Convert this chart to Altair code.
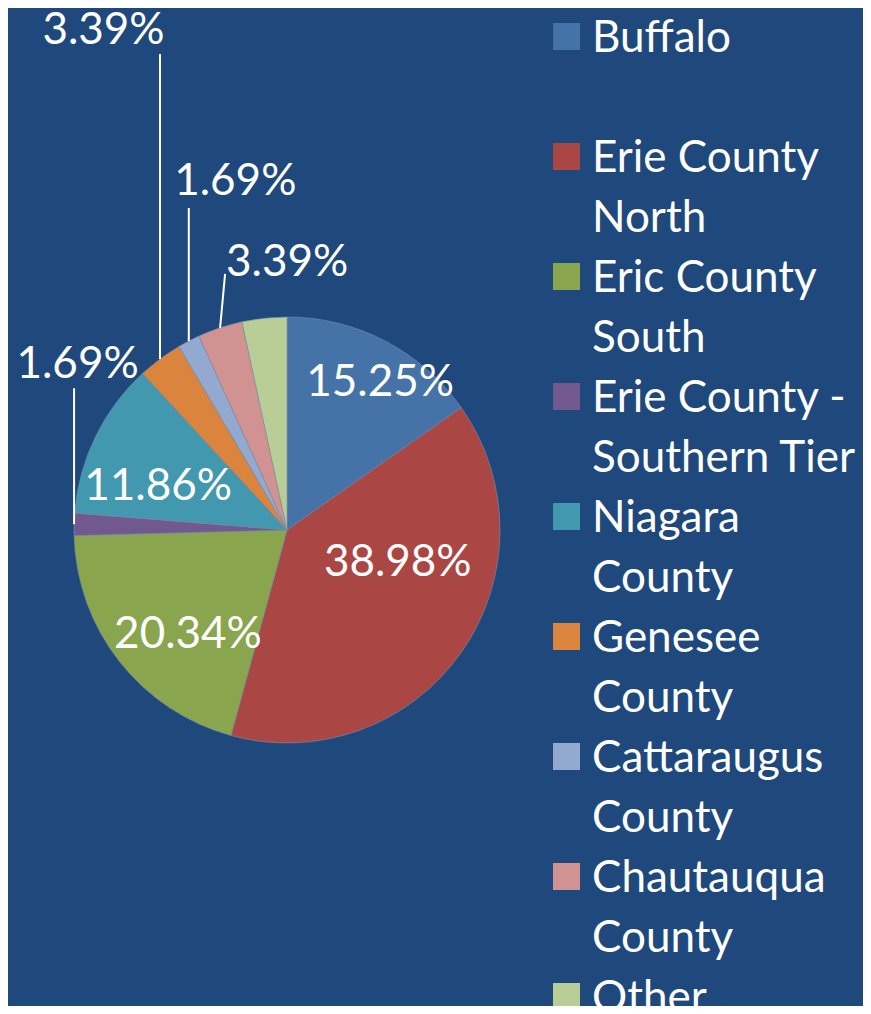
import altair as alt
import pandas as pd

# ---- data ----
categories = ["Buffalo", "Erie County North", "Eric County South",
              "Erie County - Southern Tier", "Niagara County", "Genesee County",
              "Cattaraugus County", "Chautauqua County", "Other"]
shares = [15.25, 38.98, 20.34, 1.69, 11.86, 3.39, 1.69, 3.39, 3.39]
labels = ["15.25%", "38.98%", "20.34%", "1.69%", "11.86%", "3.39%", "1.69%", "3.39%", ""]
legend_lines = [["Buffalo"], ["Erie County", "North"], ["Eric County", "South"],
                ["Erie County -", "Southern Tier"], ["Niagara", "County"],
                ["Genesee", "County"], ["Cattaraugus", "County"],
                ["Chautauqua", "County"], ["Other"]]
colors = ["#4572A7", "#AA4643", "#89A54E", "#71588F", "#4198AF",
          "#DB843D", "#93A9CF", "#D19392", "#B9CD96"]

# ---- layout (styling, not data) ----
W, H = 855, 998
CX, CY, R = 279, 522, 213
R_LABEL = 150
FONT = "Lato"
FS = 44
BG = "#1F497D"
# inside label placement: nudge from the slice-middle point at R_LABEL
inside = pd.DataFrame({
    "idx": [0, 1, 2, 4],
    "ndx": [24, -12, 19, 6],
    "ndy": [-14, -53, 12, 23],
})
# callout leader-line layout for the small slices: leader length, top x shift,
# text centre offset from leader top, text baseline offset from leader top
callouts = pd.DataFrame({
    "idx": [3, 5, 6, 7],
    "length": [136, 305, 133, 54],
    "ldx": [0, 0, 0, 5],
    "tdx": [3.5, -56.5, 46.5, 62],
    "tdy": [-10, -10, -13, 2],
})

base = pd.DataFrame({"idx": list(range(len(categories))), "category": categories,
                     "share": shares, "label": labels})

rows = []
for i, lines in enumerate(legend_lines):
    for j, t in enumerate(lines):
        rows.append({"entry": i, "line": j, "text": t, "category": categories[i]})
legend_df = pd.DataFrame(rows)

color_scale = alt.Scale(domain=categories, range=colors)

arcs = alt.Chart(base).mark_arc(outerRadius=R, stroke="#7d8ea8", strokeWidth=0.6).encode(
    theta=alt.Theta("share:Q", stack=True),
    order=alt.Order("idx:Q"),
    color=alt.Color("category:N", scale=color_scale, legend=None),
    x=alt.value(CX), y=alt.value(CY),
)

geo = alt.Chart(base).transform_joinaggregate(
    total="sum(share)"
).transform_window(
    cum="sum(share)", sort=[alt.SortField("idx")], frame=[None, 0]
).transform_calculate(
    mid="2*PI*(datum.cum - datum.share/2)/datum.total"
)

inside_text = geo.transform_lookup(
    lookup="idx",
    from_=alt.LookupData(inside, "idx", ["ndx", "ndy"]),
).transform_filter("isValid(datum.ndx)").transform_calculate(
    lx=f"{CX} + {R_LABEL}*sin(datum.mid) + datum.ndx",
    ly=f"{CY} - {R_LABEL}*cos(datum.mid) + datum.ndy",
).mark_text(font=FONT, fontSize=FS, color="white", align="center", baseline="middle").encode(
    x=alt.X("lx:Q", scale=None), y=alt.Y("ly:Q", scale=None), text="label:N"
)

call = geo.transform_lookup(
    lookup="idx",
    from_=alt.LookupData(callouts, "idx", ["length", "ldx", "tdx", "tdy"]),
).transform_filter("isValid(datum.length)").transform_calculate(
    ex=f"{CX} + {R}*sin(datum.mid)",
    ey=f"{CY} - {R}*cos(datum.mid)",
).transform_calculate(
    tx="datum.ex + datum.ldx",
    ty="datum.ey - datum.length",
).transform_calculate(
    txx="datum.tx + datum.tdx",
    tyy="datum.ty + datum.tdy",
)

leaders = call.mark_rule(color="white", strokeWidth=2).encode(
    x=alt.X("ex:Q", scale=None), y=alt.Y("ey:Q", scale=None),
    x2="tx:Q", y2="ty:Q",
)
call_text = call.mark_text(font=FONT, fontSize=FS, color="white", align="center",
                           baseline="alphabetic").encode(
    x=alt.X("txx:Q", scale=None), y=alt.Y("tyy:Q", scale=None), text="label:N"
)

leg = alt.Chart(legend_df).transform_calculate(
    ly="44 + 120*datum.entry + 60*datum.line"
)
leg_text = leg.mark_text(font=FONT, fontSize=FS, color="white", align="left",
                         baseline="alphabetic").encode(
    x=alt.value(584), y=alt.Y("ly:Q", scale=None), text="text:N"
)
leg_sym = leg.transform_filter("datum.line == 0").transform_calculate(
    sy="datum.ly - 15.5"
).mark_square(size=729, opacity=1).encode(
    x=alt.value(558.5), y=alt.Y("sy:Q", scale=None),
    color=alt.Color("category:N", scale=color_scale, legend=None),
)

chart = alt.layer(arcs, inside_text, leaders, call_text, leg_sym, leg_text).properties(
    width=W, height=H, background=BG, padding=0,
    autosize=alt.AutoSizeParams(type="none"),
).configure_view(stroke=None)

chart.save("out.html", embed_options={"renderer": "svg", "actions": False})
